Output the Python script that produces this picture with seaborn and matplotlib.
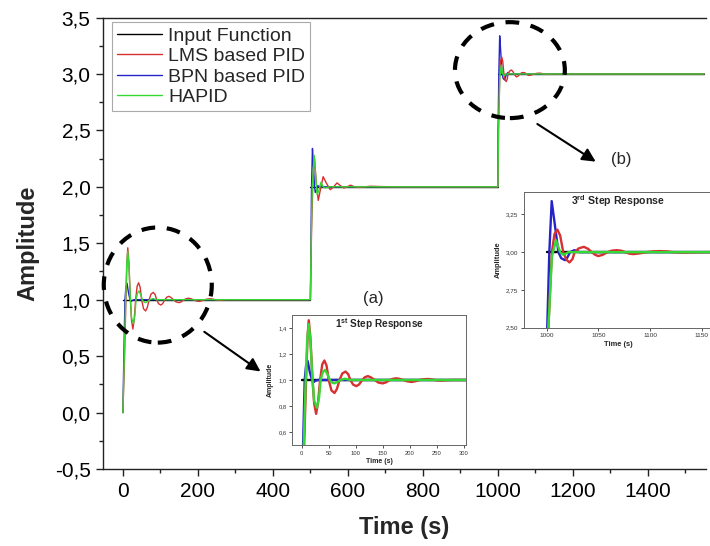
import pandas as pd
import matplotlib
matplotlib.use('Agg')
import matplotlib.pyplot as plt
import seaborn as sns
from matplotlib.patches import Ellipse
from matplotlib.ticker import MultipleLocator, FuncFormatter

sns.set_theme(style='ticks')
plt.rcParams['font.family'] = ['Liberation Sans', 'DejaVu Sans']
plt.rcParams['mathtext.fontset'] = 'custom'
plt.rcParams['mathtext.rm'] = 'Liberation Sans'
plt.rcParams['mathtext.bf'] = 'Liberation Sans:bold'

# Datos (tiempo en s, amplitud)
input_t = [0, 500, 500, 1000, 1000, 1550]
input_y = [1, 1, 2, 2, 3, 3]
input_seg = [0, 0, 1, 1, 2, 2]

lms_t = [0, 4.5, 8, 11, 13, 16, 20, 23, 26.6, 30, 34, 38, 42, 46, 50, 55, 60.6, 65, 70, 75, 81,
         86, 90, 95, 101, 106, 112, 117, 122.5, 128, 135, 142, 150, 156, 163, 169, 175, 181, 188,
         195, 203, 210, 218, 226, 234, 240, 246, 252, 258, 268, 280,
         500, 503, 507, 511, 516, 521, 527, 534, 543, 553, 562, 571, 580, 589, 598, 607, 618,
         630, 645, 660, 690, 740,
         1000, 1001.6, 1005, 1007.5, 1010.3, 1013, 1016, 1019, 1022, 1025, 1027, 1031, 1036, 1040,
         1043.5, 1047, 1050, 1054, 1059, 1063, 1067.7, 1072, 1076, 1080, 1084, 1090, 1097, 1103,
         1110, 1116, 1122, 1130, 1140, 1155, 1550]
lms_y = [0, 0.5, 1.0, 1.35, 1.46, 1.33, 1.0, 0.82, 0.74, 0.82, 1.0, 1.12, 1.15, 1.11, 1.0, 0.92,
         0.90, 0.93, 1.0, 1.05, 1.065, 1.045, 1.0, 0.965, 0.953, 0.965, 1.0, 1.022, 1.03, 1.02,
         1.0, 0.98, 0.974, 0.982, 1.0, 1.009, 1.013, 1.009, 1.0, 0.99, 0.985, 0.99, 1.0, 1.006,
         1.008, 1.005, 1.0, 0.996, 0.995, 0.998, 1.0,
         1.0, 1.6, 2.1, 2.25, 2.02, 1.88, 1.98, 2.09, 2.03, 1.975, 2.0, 2.035, 2.01, 1.99, 2.0,
         2.015, 2.0, 1.995, 2.0, 2.005, 2.002, 2.0,
         2.0, 2.5, 3.0, 3.12, 3.149, 3.11, 3.0, 2.95, 2.932, 2.955, 3.0, 3.025, 3.035, 3.022,
         3.0, 2.982, 2.974, 2.982, 3.0, 3.01, 3.013, 3.01, 3.0, 2.99, 2.987, 2.992, 3.0, 3.005,
         3.007, 3.005, 3.0, 2.997, 2.998, 3.0, 3.0]

bpn_t = [0, 2.5, 5.5, 8, 11, 15, 19, 22, 26, 30,
         500, 501.5, 503, 505.5, 508, 511, 513, 517, 520, 525,
         1000, 1000.5, 1002.5, 1004.8, 1007.5, 1011.3, 1014, 1017.7, 1020, 1022.6, 1026.8, 1032, 1550]
bpn_y = [0, 0.5, 1.0, 1.11, 1.146, 1.06, 1.0, 0.985, 0.995, 1.0,
         1.0, 1.5, 2.0, 2.34, 2.2, 2.0, 1.95, 1.98, 2.01, 2.0,
         2.0, 2.5, 3.0, 3.338, 3.2, 3.0, 2.96, 2.947, 2.965, 3.0, 3.013, 3.0, 3.0]

hapid_t = [0, 3.7, 7, 10, 13, 16, 20, 23, 28, 32, 35, 39, 43, 48, 52, 56, 60.6, 66, 72, 80, 90,
           500, 502, 505, 510, 514, 516, 518, 523, 528, 534, 540, 550,
           1000, 1001.6, 1005, 1009, 1013, 1016, 1021, 1550]
hapid_y = [0, 0.5, 0.95, 1.3, 1.43, 1.3, 1.0, 0.84, 0.787, 0.86, 1.0, 1.06, 1.078, 1.04, 1.0,
           0.98, 0.974, 0.985, 1.0, 1.01, 1.0,
           1.0, 1.5, 2.0, 2.28, 2.1, 2.0, 1.93, 1.97, 2.04, 2.0, 1.99, 2.0,
           2.0, 2.5, 2.97, 3.079, 3.0, 2.982, 3.0, 3.0]

series = {
    'Input Function': (input_t, input_y, input_seg, '#000000'),
    'LMS based PID': (lms_t, lms_y, None, '#d63030'),
    'BPN based PID': (bpn_t, bpn_y, None, '#2424c8'),
    'HAPID': (hapid_t, hapid_y, None, '#35d835'),
}
orden_dibujo = ['Input Function', 'BPN based PID', 'LMS based PID', 'HAPID']
orden_leyenda = ['Input Function', 'LMS based PID', 'BPN based PID', 'HAPID']


def dibujar(ax, lw):
    lineas = {}
    for nombre in orden_dibujo:
        t, y, seg, color = series[nombre]
        df = pd.DataFrame({'t': t, 'y': y, 'seg': seg if seg is not None else 0})
        sns.lineplot(data=df, x='t', y='y', units='seg', ax=ax, color=color, lw=lw,
                     estimator=None, sort=False, legend=False)
        lineas[nombre] = ax.lines[-1]
    return lineas


coma1 = FuncFormatter(lambda v, p: f'{v:.1f}'.replace('.', ','))
coma2 = FuncFormatter(lambda v, p: f'{v:.2f}'.replace('.', ','))

fig = plt.figure(figsize=(7.1, 5.46), dpi=100)
ax = fig.add_axes([0.1451, 0.141, 0.8493, 0.8269])
lineas = dibujar(ax, 1.0)

ax.set_xlim(-53, 1555)
ax.set_ylim(-0.5, 3.5)
ax.xaxis.set_major_locator(MultipleLocator(200))
ax.xaxis.set_minor_locator(MultipleLocator(100))
ax.yaxis.set_major_locator(MultipleLocator(0.5))
ax.yaxis.set_minor_locator(MultipleLocator(0.25))
ax.yaxis.set_major_formatter(coma1)
ax.tick_params(which='major', direction='out', length=5, width=1, labelsize=15,
               colors='#222222', pad=4)
ax.tick_params(which='minor', direction='out', length=3, width=1, colors='#222222')
ax.tick_params(axis='both', labelcolor='black')
for s in ax.spines.values():
    s.set_linewidth(1.0)
    s.set_color('#222222')
ax.spines['right'].set_visible(False)
ax.set_xlabel('Time (s)', fontsize=17, fontweight='bold', labelpad=11)
ax.set_ylabel('Amplitude', fontsize=17, fontweight='bold', labelpad=11)

leg = ax.legend([lineas[n] for n in orden_leyenda], orden_leyenda, loc='upper left',
                bbox_to_anchor=(0.015, 0.99), fontsize=14, frameon=True, fancybox=False,
                edgecolor='#aaaaaa', framealpha=1, borderpad=0.25, labelspacing=0.15,
                handlelength=2.3, handletextpad=0.35, borderaxespad=0)
leg.get_frame().set_linewidth(0.8)

# Elipses, flechas y etiquetas
for c, w, h in [((93, 1.13), 288, 1.02), ((1032, 3.034), 293, 0.85)]:
    ax.add_patch(Ellipse(c, w, h, fill=False, ec='black', lw=3,
                         ls=(0, (3.3, 2.8)), clip_on=False, zorder=5))
for ini, fin in [((211, 0.73), (373, 0.35)), ((1099, 2.57), (1267, 2.21))]:
    ax.annotate('', xy=fin, xytext=ini,
                arrowprops=dict(arrowstyle='-|>', color='black', lw=1.5, mutation_scale=20))
ax.text(669, 1.01, '(a)', fontsize=12, ha='center', va='center')
ax.text(1328, 2.24, '(b)', fontsize=12, ha='center', va='center')


def inset(rect, xlim, ylim, xstep, ystep, fmt, titulo, fs):
    a = fig.add_axes(rect, zorder=10)
    a.set_facecolor('white')
    dibujar(a, 1.7)
    a.set_xlim(*xlim)
    a.set_ylim(*ylim)
    a.xaxis.set_major_locator(MultipleLocator(xstep))
    a.yaxis.set_major_locator(MultipleLocator(ystep))
    a.yaxis.set_major_formatter(fmt)
    a.tick_params(direction='out', length=2, width=0.6, labelsize=fs, pad=2,
                  colors='#333333')
    for s in a.spines.values():
        s.set_linewidth(0.7)
        s.set_color('#666666')
    a.set_xlabel('Time (s)', fontsize=fs + 0.8, fontweight='bold', labelpad=2)
    a.set_ylabel('Amplitude', fontsize=fs + 0.8, fontweight='bold', labelpad=3)
    a.text(0.5, 0.93, titulo, transform=a.transAxes, ha='center', va='center',
           fontsize=fs + 3, fontweight='bold')
    return a


inset([292 / 710, 101 / 546, 174 / 710, 130 / 546], (-18, 304), (0.5, 1.5), 50, 0.2,
      coma1, r'1$^{\bf st}$ Step Response', 4.2)
inset([524 / 710, 218.3 / 546, 188 / 710, 136 / 546], (978, 1160), (2.5, 3.4), 50, 0.25,
      coma2, r'3$^{\bf rd}$ Step Response', 4.6)

fig.savefig('out.png', dpi=100)
